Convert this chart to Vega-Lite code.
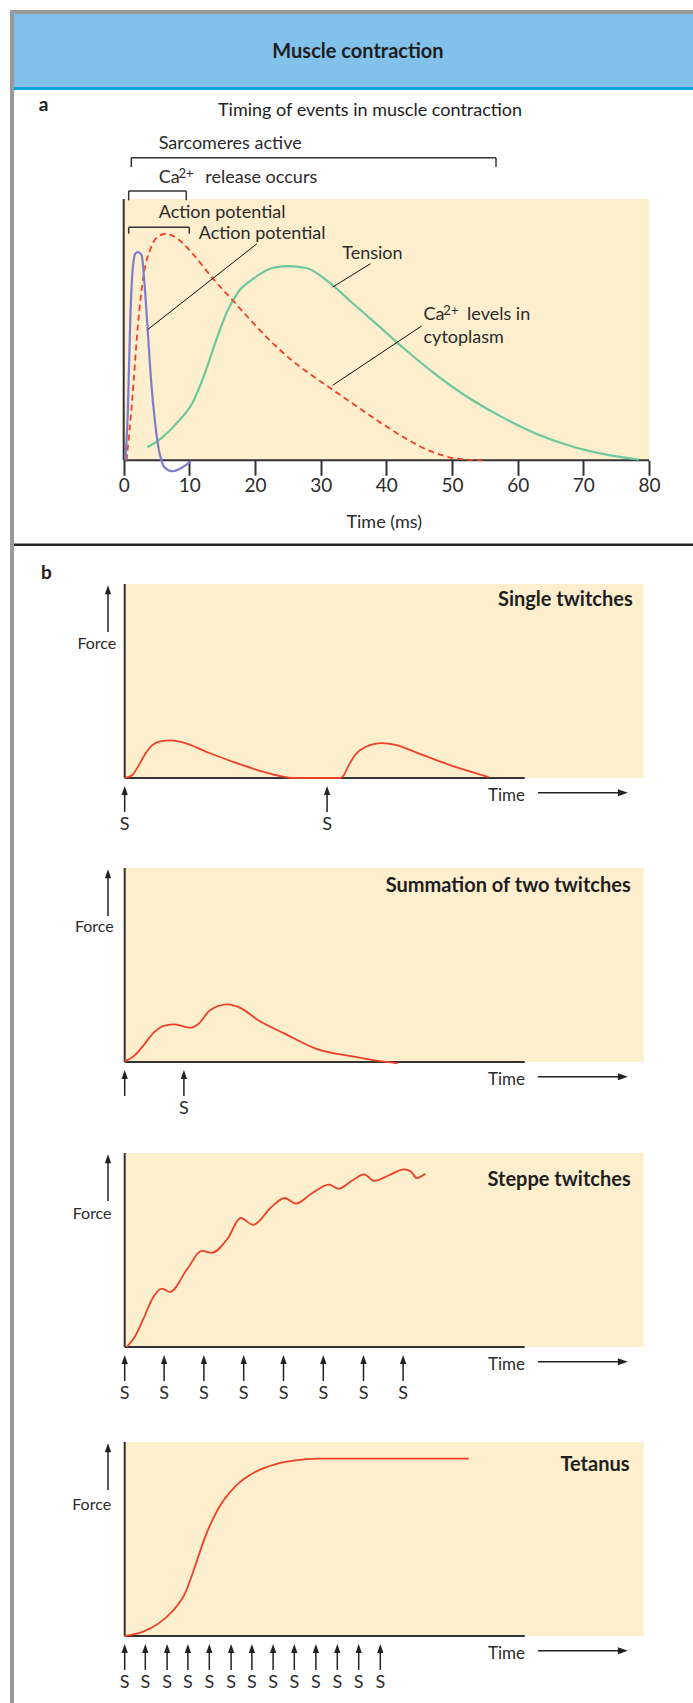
{
"$schema": "https://vega.github.io/schema/vega-lite/v6.json",
"background": "white",
"padding": {"left": 8, "top": 8, "right": 0, "bottom": 0},
"bounds": "flush",
"spacing": 0,
"config": {"view": {"stroke": null}, "font": "Lato"},
"datasets": {
"a_axes": [{"t":0,"t2":80,"v":0,"v2":0},{"t":0,"t2":0,"v":0,"v2":100}],
"tension": [{"t":3.61,"v":5.0},{"t":5.9,"v":8.8},{"t":8.21,"v":14.6},{"t":10.52,"v":22.2},{"t":12.24,"v":32.5},{"t":13.98,"v":45.2},{"t":15.7,"v":56.7},{"t":17.44,"v":64.4},{"t":19.74,"v":69.5},{"t":22.62,"v":73.6},{"t":24.9,"v":74.3},{"t":27.8,"v":73.6},{"t":31.25,"v":68.2},{"t":34.7,"v":60.5},{"t":38.17,"v":52.9},{"t":42.78,"v":42.6},{"t":47.4,"v":33.1},{"t":52.0,"v":24.8},{"t":57.2,"v":17.1},{"t":62.9,"v":10.1},{"t":68.7,"v":5.0},{"t":73.9,"v":2.0},{"t":78.5,"v":0.3}],
"ca": [{"t":0.44,"v":0},{"t":1.31,"v":23.5},{"t":2.16,"v":51.6},{"t":3.03,"v":70.8},{"t":4.19,"v":81.6},{"t":5.33,"v":85.8},{"t":6.49,"v":86.7},{"t":8.21,"v":84.8},{"t":10.52,"v":79.0},{"t":13.4,"v":70.1},{"t":16.86,"v":60.5},{"t":19.74,"v":52.5},{"t":22.62,"v":45.0},{"t":25.5,"v":38.5},{"t":28.95,"v":32.0},{"t":31.83,"v":27.0},{"t":34.7,"v":22.0},{"t":38.17,"v":16.0},{"t":42.78,"v":8.6},{"t":46.8,"v":3.4},{"t":50.84,"v":0.6},{"t":54.6,"v":0}],
"ap": [{"t":0.26,"v":0},{"t":0.61,"v":17.1},{"t":1.02,"v":55.4},{"t":1.42,"v":74.6},{"t":1.8,"v":79.2},{"t":2.16,"v":79.7},{"t":2.5,"v":79.2},{"t":2.74,"v":78.4},{"t":3.15,"v":68.2},{"t":3.61,"v":51.6},{"t":4.19,"v":29.9},{"t":4.77,"v":14.6},{"t":5.33,"v":4.3},{"t":5.74,"v":0},{"t":6.2,"v":-2.7},{"t":7.36,"v":-4.2},{"t":8.5,"v":-3.3},{"t":10.23,"v":-0.4}],
"a_brackets": [{"t":1.16,"v":115.8,"t2":56.7,"v2":115.8},{"t":1.16,"v":115.8,"t2":1.16,"v2":112.2},{"t":56.7,"v":115.8,"t2":56.7,"v2":112.2},{"t":0.76,"v":103.06,"t2":9.53,"v2":103.06},{"t":0.76,"v":103.06,"t2":0.76,"v2":99.5},{"t":9.53,"v":103.06,"t2":9.53,"v2":99.5},{"t":0.76,"v":89.17,"t2":9.99,"v2":89.17},{"t":0.76,"v":89.17,"t2":0.76,"v2":86.72},{"t":9.99,"v":89.17,"t2":9.99,"v2":86.72}],
"a_leaders": [{"t":20.3,"v":82.9,"t2":3.65,"v2":50},{"t":37.59,"v":75.24,"t2":31.83,"v2":66.3},{"t":45.37,"v":51.4,"t2":31.83,"v2":28.7}],
"a_text": [{"t":5.33,"v":119.25,"label":"Sarcomeres active","kind":"body"},{"t":5.33,"v":106.1,"label":"Ca","kind":"body"},{"t":8.35,"v":108.0,"label":"2+","kind":"sup"},{"t":12.43,"v":106.1,"label":"release occurs","kind":"body"},{"t":5.33,"v":92.84,"label":"Action potential","kind":"body"},{"t":11.42,"v":84.58,"label":"Action potential","kind":"body"},{"t":33.28,"v":76.9,"label":"Tension","kind":"body"},{"t":45.66,"v":53.6,"label":"Ca","kind":"body"},{"t":48.68,"v":55.5,"label":"2+","kind":"sup"},{"t":52.3,"v":53.6,"label":"levels in","kind":"body"},{"t":45.66,"v":44.9,"label":"cytoplasm","kind":"body"},{"t":37.52,"v":131.65,"label":"Timing of events in muscle contraction","kind":"title"},{"t":-12.95,"v":133.7,"label":"a","kind":"panel"}],
"b_axes": [{"u":0,"u2":100,"v":0,"v2":0},{"u":0,"u2":0,"v":0,"v2":100}],
"b1_curve": [{"u":0,"v":0},{"u":1.83,"v":1.4},{"u":3.5,"v":6.5},{"u":5.17,"v":12.5},{"u":6.83,"v":16.8},{"u":8.9,"v":18.9},{"u":11.4,"v":19.4},{"u":14.3,"v":18.5},{"u":21,"v":13},{"u":27.65,"v":7.9},{"u":34.3,"v":3.4},{"u":41,"v":0.2},{"u":42,"v":0},{"u":53.9,"v":0},{"u":54.75,"v":1.4},{"u":56,"v":6.5},{"u":57.65,"v":12},{"u":60.15,"v":16},{"u":64.3,"v":18},{"u":67.65,"v":17.1},{"u":74.3,"v":12},{"u":82.65,"v":5.7},{"u":91,"v":0.5}],
"b2_curve": [{"u":0,"v":0.3},{"u":2.5,"v":3.4},{"u":4.7,"v":8.6},{"u":7.45,"v":15.5},{"u":10.2,"v":18.9},{"u":12.4,"v":19.4},{"u":14.6,"v":18.4},{"u":16.6,"v":17.7},{"u":18.5,"v":19.7},{"u":21.25,"v":26.6},{"u":25.7,"v":29.7},{"u":29,"v":27.8},{"u":33.4,"v":21.5},{"u":40,"v":14.6},{"u":47.75,"v":6.9},{"u":57.7,"v":2.6},{"u":64.3,"v":0.3},{"u":68.2,"v":-0.7}],
"b3_curve": [{"u":0.5,"v":0},{"u":2.5,"v":5.2},{"u":4.7,"v":14.6},{"u":6.9,"v":24.9},{"u":9.3,"v":30.1},{"u":11.3,"v":28.4},{"u":15.7,"v":40.4},{"u":19.25,"v":49.5},{"u":21.8,"v":48.6},{"u":25.7,"v":55.8},{"u":29,"v":66.5},{"u":32.1,"v":63},{"u":36.7,"v":72.2},{"u":40,"v":76.8},{"u":42.8,"v":73.9},{"u":46.65,"v":79},{"u":51.1,"v":83.7},{"u":53.5,"v":81.6},{"u":56.6,"v":85.4},{"u":59.9,"v":89},{"u":62.35,"v":85.6},{"u":66,"v":88.5},{"u":69.85,"v":91.6},{"u":71.5,"v":90.6},{"u":72.95,"v":87.1},{"u":75.15,"v":89.3}],
"b4_curve": [{"u":0,"v":0},{"u":4.3,"v":2},{"u":8.5,"v":6.5},{"u":11.8,"v":12.5},{"u":15.2,"v":22.5},{"u":17.6,"v":36},{"u":20.1,"v":51},{"u":23.5,"v":66},{"u":27.6,"v":77},{"u":32.6,"v":84.5},{"u":37.6,"v":88.5},{"u":42.6,"v":90.5},{"u":48.3,"v":91.4},{"u":86,"v":91.4}],
"b1_stim": [{"u":0,"label":"S"},{"u":50.6,"label":"S"}],
"b2_stim": [{"u":0,"label":""},{"u":14.8,"label":"S"}],
"b3_stim": [{"u":0,"label":"S"},{"u":9.85,"label":"S"},{"u":19.8,"label":"S"},{"u":29.75,"label":"S"},{"u":39.7,"label":"S"},{"u":49.65,"label":"S"},{"u":59.7,"label":"S"},{"u":69.6,"label":"S"}],
"b4_stim": [{"u":0,"label":"S"},{"u":5.15,"label":"S"},{"u":10.6,"label":"S"},{"u":15.8,"label":"S"},{"u":21.15,"label":"S"},{"u":26.6,"label":"S"},{"u":31.8,"label":"S"},{"u":37.1,"label":"S"},{"u":42.4,"label":"S"},{"u":47.8,"label":"S"},{"u":53.15,"label":"S"},{"u":58.5,"label":"S"},{"u":63.9,"label":"S"}],
"b1_text": [{"u":-2.1,"v":66.65,"label":"Force","kind":"force"},{"u":90.8,"v":-12.1,"label":"Time","kind":"time"},{"u":127,"v":88.5,"label":"Single twitches","kind":"title"},{"u":-20.9,"v":102.6,"label":"b","kind":"panel"}],
"b2_text": [{"u":-2.73,"v":67.0,"label":"Force","kind":"force"},{"u":90.8,"v":-12.1,"label":"Time","kind":"time"},{"u":126.5,"v":87.4,"label":"Summation of two twitches","kind":"title"}],
"b3_text": [{"u":-3.28,"v":66.1,"label":"Force","kind":"force"},{"u":90.8,"v":-12.1,"label":"Time","kind":"time"},{"u":126.5,"v":83,"label":"Steppe twitches","kind":"title"}],
"b4_text": [{"u":-3.4,"v":64.8,"label":"Force","kind":"force"},{"u":90.8,"v":-12.1,"label":"Time","kind":"time"},{"u":126.2,"v":84.9,"label":"Tetanus","kind":"title"}]
},
"vconcat": [
{
"width": 685, "height": 78,
"data": {"values": [{"label": "Muscle contraction"}]},
"layer": [
{"mark": {"type": "rect", "color": "#82c1ea"}, "encoding": {"x": {"datum": 0, "type": "quantitative", "scale": {"domain": [0,100], "nice": false, "zero": false}, "axis": null}, "x2": {"datum": 100}, "y": {"datum": 0, "type": "quantitative", "scale": {"domain": [0,100], "nice": false, "zero": false}, "axis": null}, "y2": {"datum": 100}}},
{"mark": {"type": "rule", "color": "#00a8e2", "strokeWidth": 3}, "encoding": {"y": {"datum": -0.64, "type": "quantitative", "scale": {"domain": [0,100], "nice": false, "zero": false}, "axis": null}}},
{"mark": {"type": "rule", "color": "#9a9a9a", "strokeWidth": 4}, "encoding": {"y": {"datum": 97.44, "type": "quantitative", "scale": {"domain": [0,100], "nice": false, "zero": false}, "axis": null}}},
{"mark": {"type": "rule", "color": "#9a9a9a", "strokeWidth": 4}, "encoding": {"x": {"datum": 0.292, "type": "quantitative", "scale": {"domain": [0,100], "nice": false, "zero": false}, "axis": null}}},
{"mark": {"type": "text", "font": "Lato", "fontSize": 20, "fontWeight": "bold", "align": "center", "baseline": "alphabetic", "color": "#1e1e1e"}, "encoding": {"x": {"datum": 50.8, "type": "quantitative", "scale": {"domain": [0,100], "nice": false, "zero": false}, "axis": null}, "y": {"datum": 38.46, "type": "quantitative", "scale": {"domain": [0,100], "nice": false, "zero": false}, "axis": null}, "text": {"field": "label"}}}
]
},
{
"width": 685, "height": 457,
"layer": [
{"data": {"values": [{}]}, "mark": {"type": "rect", "color": "#fdeecd"}, "encoding": {"x": {"datum": 0, "type": "quantitative", "scale": {"domain": [-17.316,87.007], "nice": false, "zero": false}, "axis": {"values": [0,10,20,30,40,50,60,70,80], "offset": -84.7, "domain": false, "grid": false, "ticks": true, "tickSize": 15, "tickWidth": 2, "tickColor": "#333333", "labelFont": "Lato", "labelFontSize": 19, "labelColor": "#2b2b2b", "labelBaseline": "alphabetic", "labelPadding": 16, "labelFlush": false, "labelOverlap": false, "title": "Time (ms)", "titleFont": "Lato", "titleFontSize": 18, "titleFontWeight": "normal", "titleColor": "#2b2b2b", "titleX": 373.7, "titleY": 66.7, "titleBaseline": "alphabetic", "titleAlign": "center"}}, "x2": {"datum": 80}, "y": {"datum": 0, "type": "quantitative", "scale": {"domain": [-32.415,142.48], "nice": false, "zero": false}, "axis": null}, "y2": {"datum": 100}}},
{"data": {"name": "a_axes"}, "mark": {"type": "rule", "color": "#333333", "strokeWidth": 2}, "encoding": {"x": {"field": "t", "type": "quantitative", "scale": {"domain": [-17.316,87.007], "nice": false, "zero": false}, "axis": {"values": [0,10,20,30,40,50,60,70,80], "offset": -84.7, "domain": false, "grid": false, "ticks": true, "tickSize": 15, "tickWidth": 2, "tickColor": "#333333", "labelFont": "Lato", "labelFontSize": 19, "labelColor": "#2b2b2b", "labelBaseline": "alphabetic", "labelPadding": 16, "labelFlush": false, "labelOverlap": false, "title": "Time (ms)", "titleFont": "Lato", "titleFontSize": 18, "titleFontWeight": "normal", "titleColor": "#2b2b2b", "titleX": 373.7, "titleY": 66.7, "titleBaseline": "alphabetic", "titleAlign": "center"}}, "x2": {"field": "t2"}, "y": {"field": "v", "type": "quantitative", "scale": {"domain": [-32.415,142.48], "nice": false, "zero": false}, "axis": null}, "y2": {"field": "v2"}}},
{"data": {"name": "tension"}, "mark": {"type": "line", "color": "#6cc89b", "strokeWidth": 2.2, "interpolate": "monotone"}, "encoding": {"x": {"field": "t", "type": "quantitative", "scale": {"domain": [-17.316,87.007], "nice": false, "zero": false}, "axis": {"values": [0,10,20,30,40,50,60,70,80], "offset": -84.7, "domain": false, "grid": false, "ticks": true, "tickSize": 15, "tickWidth": 2, "tickColor": "#333333", "labelFont": "Lato", "labelFontSize": 19, "labelColor": "#2b2b2b", "labelBaseline": "alphabetic", "labelPadding": 16, "labelFlush": false, "labelOverlap": false, "title": "Time (ms)", "titleFont": "Lato", "titleFontSize": 18, "titleFontWeight": "normal", "titleColor": "#2b2b2b", "titleX": 373.7, "titleY": 66.7, "titleBaseline": "alphabetic", "titleAlign": "center"}}, "y": {"field": "v", "type": "quantitative", "scale": {"domain": [-32.415,142.48], "nice": false, "zero": false}, "axis": null}}},
{"data": {"name": "ca"}, "mark": {"type": "line", "color": "#ee4128", "strokeWidth": 1.8, "strokeDash": [6,4], "interpolate": "monotone"}, "encoding": {"x": {"field": "t", "type": "quantitative", "scale": {"domain": [-17.316,87.007], "nice": false, "zero": false}, "axis": {"values": [0,10,20,30,40,50,60,70,80], "offset": -84.7, "domain": false, "grid": false, "ticks": true, "tickSize": 15, "tickWidth": 2, "tickColor": "#333333", "labelFont": "Lato", "labelFontSize": 19, "labelColor": "#2b2b2b", "labelBaseline": "alphabetic", "labelPadding": 16, "labelFlush": false, "labelOverlap": false, "title": "Time (ms)", "titleFont": "Lato", "titleFontSize": 18, "titleFontWeight": "normal", "titleColor": "#2b2b2b", "titleX": 373.7, "titleY": 66.7, "titleBaseline": "alphabetic", "titleAlign": "center"}}, "y": {"field": "v", "type": "quantitative", "scale": {"domain": [-32.415,142.48], "nice": false, "zero": false}, "axis": null}}},
{"data": {"name": "ap"}, "mark": {"type": "line", "color": "#7d7dcd", "strokeWidth": 2.2, "interpolate": "monotone"}, "encoding": {"x": {"field": "t", "type": "quantitative", "scale": {"domain": [-17.316,87.007], "nice": false, "zero": false}, "axis": {"values": [0,10,20,30,40,50,60,70,80], "offset": -84.7, "domain": false, "grid": false, "ticks": true, "tickSize": 15, "tickWidth": 2, "tickColor": "#333333", "labelFont": "Lato", "labelFontSize": 19, "labelColor": "#2b2b2b", "labelBaseline": "alphabetic", "labelPadding": 16, "labelFlush": false, "labelOverlap": false, "title": "Time (ms)", "titleFont": "Lato", "titleFontSize": 18, "titleFontWeight": "normal", "titleColor": "#2b2b2b", "titleX": 373.7, "titleY": 66.7, "titleBaseline": "alphabetic", "titleAlign": "center"}}, "y": {"field": "v", "type": "quantitative", "scale": {"domain": [-32.415,142.48], "nice": false, "zero": false}, "axis": null}}},
{"data": {"name": "a_brackets"}, "mark": {"type": "rule", "color": "#333333", "strokeWidth": 1.5}, "encoding": {"x": {"field": "t", "type": "quantitative", "scale": {"domain": [-17.316,87.007], "nice": false, "zero": false}, "axis": {"values": [0,10,20,30,40,50,60,70,80], "offset": -84.7, "domain": false, "grid": false, "ticks": true, "tickSize": 15, "tickWidth": 2, "tickColor": "#333333", "labelFont": "Lato", "labelFontSize": 19, "labelColor": "#2b2b2b", "labelBaseline": "alphabetic", "labelPadding": 16, "labelFlush": false, "labelOverlap": false, "title": "Time (ms)", "titleFont": "Lato", "titleFontSize": 18, "titleFontWeight": "normal", "titleColor": "#2b2b2b", "titleX": 373.7, "titleY": 66.7, "titleBaseline": "alphabetic", "titleAlign": "center"}}, "x2": {"field": "t2"}, "y": {"field": "v", "type": "quantitative", "scale": {"domain": [-32.415,142.48], "nice": false, "zero": false}, "axis": null}, "y2": {"field": "v2"}}},
{"data": {"name": "a_leaders"}, "mark": {"type": "rule", "color": "#111111", "strokeWidth": 1}, "encoding": {"x": {"field": "t", "type": "quantitative", "scale": {"domain": [-17.316,87.007], "nice": false, "zero": false}, "axis": {"values": [0,10,20,30,40,50,60,70,80], "offset": -84.7, "domain": false, "grid": false, "ticks": true, "tickSize": 15, "tickWidth": 2, "tickColor": "#333333", "labelFont": "Lato", "labelFontSize": 19, "labelColor": "#2b2b2b", "labelBaseline": "alphabetic", "labelPadding": 16, "labelFlush": false, "labelOverlap": false, "title": "Time (ms)", "titleFont": "Lato", "titleFontSize": 18, "titleFontWeight": "normal", "titleColor": "#2b2b2b", "titleX": 373.7, "titleY": 66.7, "titleBaseline": "alphabetic", "titleAlign": "center"}}, "x2": {"field": "t2"}, "y": {"field": "v", "type": "quantitative", "scale": {"domain": [-32.415,142.48], "nice": false, "zero": false}, "axis": null}, "y2": {"field": "v2"}}},
{"data": {"name": "a_text"}, "transform": [{"filter": "datum.kind === 'body'"}], "mark": {"type": "text", "font": "Lato", "fontSize": 18, "align": "left", "baseline": "alphabetic", "color": "#2b2b2b"}, "encoding": {"x": {"field": "t", "type": "quantitative", "scale": {"domain": [-17.316,87.007], "nice": false, "zero": false}, "axis": {"values": [0,10,20,30,40,50,60,70,80], "offset": -84.7, "domain": false, "grid": false, "ticks": true, "tickSize": 15, "tickWidth": 2, "tickColor": "#333333", "labelFont": "Lato", "labelFontSize": 19, "labelColor": "#2b2b2b", "labelBaseline": "alphabetic", "labelPadding": 16, "labelFlush": false, "labelOverlap": false, "title": "Time (ms)", "titleFont": "Lato", "titleFontSize": 18, "titleFontWeight": "normal", "titleColor": "#2b2b2b", "titleX": 373.7, "titleY": 66.7, "titleBaseline": "alphabetic", "titleAlign": "center"}}, "y": {"field": "v", "type": "quantitative", "scale": {"domain": [-32.415,142.48], "nice": false, "zero": false}, "axis": null}, "text": {"field": "label"}}},
{"data": {"name": "a_text"}, "transform": [{"filter": "datum.kind === 'sup'"}], "mark": {"type": "text", "font": "Lato", "fontSize": 13, "align": "left", "baseline": "alphabetic", "color": "#2b2b2b"}, "encoding": {"x": {"field": "t", "type": "quantitative", "scale": {"domain": [-17.316,87.007], "nice": false, "zero": false}, "axis": {"values": [0,10,20,30,40,50,60,70,80], "offset": -84.7, "domain": false, "grid": false, "ticks": true, "tickSize": 15, "tickWidth": 2, "tickColor": "#333333", "labelFont": "Lato", "labelFontSize": 19, "labelColor": "#2b2b2b", "labelBaseline": "alphabetic", "labelPadding": 16, "labelFlush": false, "labelOverlap": false, "title": "Time (ms)", "titleFont": "Lato", "titleFontSize": 18, "titleFontWeight": "normal", "titleColor": "#2b2b2b", "titleX": 373.7, "titleY": 66.7, "titleBaseline": "alphabetic", "titleAlign": "center"}}, "y": {"field": "v", "type": "quantitative", "scale": {"domain": [-32.415,142.48], "nice": false, "zero": false}, "axis": null}, "text": {"field": "label"}}},
{"data": {"name": "a_text"}, "transform": [{"filter": "datum.kind === 'title'"}], "mark": {"type": "text", "font": "Lato", "fontSize": 18, "align": "center", "baseline": "alphabetic", "color": "#1e1e1e"}, "encoding": {"x": {"field": "t", "type": "quantitative", "scale": {"domain": [-17.316,87.007], "nice": false, "zero": false}, "axis": {"values": [0,10,20,30,40,50,60,70,80], "offset": -84.7, "domain": false, "grid": false, "ticks": true, "tickSize": 15, "tickWidth": 2, "tickColor": "#333333", "labelFont": "Lato", "labelFontSize": 19, "labelColor": "#2b2b2b", "labelBaseline": "alphabetic", "labelPadding": 16, "labelFlush": false, "labelOverlap": false, "title": "Time (ms)", "titleFont": "Lato", "titleFontSize": 18, "titleFontWeight": "normal", "titleColor": "#2b2b2b", "titleX": 373.7, "titleY": 66.7, "titleBaseline": "alphabetic", "titleAlign": "center"}}, "y": {"field": "v", "type": "quantitative", "scale": {"domain": [-32.415,142.48], "nice": false, "zero": false}, "axis": null}, "text": {"field": "label"}}},
{"data": {"name": "a_text"}, "transform": [{"filter": "datum.kind === 'panel'"}], "mark": {"type": "text", "font": "Lato", "fontSize": 19, "fontWeight": "bold", "align": "left", "baseline": "alphabetic", "color": "#1e1e1e"}, "encoding": {"x": {"field": "t", "type": "quantitative", "scale": {"domain": [-17.316,87.007], "nice": false, "zero": false}, "axis": {"values": [0,10,20,30,40,50,60,70,80], "offset": -84.7, "domain": false, "grid": false, "ticks": true, "tickSize": 15, "tickWidth": 2, "tickColor": "#333333", "labelFont": "Lato", "labelFontSize": 19, "labelColor": "#2b2b2b", "labelBaseline": "alphabetic", "labelPadding": 16, "labelFlush": false, "labelOverlap": false, "title": "Time (ms)", "titleFont": "Lato", "titleFontSize": 18, "titleFontWeight": "normal", "titleColor": "#2b2b2b", "titleX": 373.7, "titleY": 66.7, "titleBaseline": "alphabetic", "titleAlign": "center"}}, "y": {"field": "v", "type": "quantitative", "scale": {"domain": [-32.415,142.48], "nice": false, "zero": false}, "axis": null}, "text": {"field": "label"}}},
{"data": {"values": [{}]}, "mark": {"type": "rule", "color": "#222222", "strokeWidth": 2.5}, "encoding": {"y": {"datum": -32.34, "type": "quantitative", "scale": {"domain": [-32.415,142.48], "nice": false, "zero": false}, "axis": null}}},
{"data": {"values": [{}]}, "mark": {"type": "rule", "color": "#9a9a9a", "strokeWidth": 4}, "encoding": {"x": {"datum": -17.012, "type": "quantitative", "scale": {"domain": [-17.316,87.007], "nice": false, "zero": false}, "axis": {"values": [0,10,20,30,40,50,60,70,80], "offset": -84.7, "domain": false, "grid": false, "ticks": true, "tickSize": 15, "tickWidth": 2, "tickColor": "#333333", "labelFont": "Lato", "labelFontSize": 19, "labelColor": "#2b2b2b", "labelBaseline": "alphabetic", "labelPadding": 16, "labelFlush": false, "labelOverlap": false, "title": "Time (ms)", "titleFont": "Lato", "titleFontSize": 18, "titleFontWeight": "normal", "titleColor": "#2b2b2b", "titleX": 373.7, "titleY": 66.7, "titleBaseline": "alphabetic", "titleAlign": "center"}}}}
]
},
{
"width": 685, "height": 302,
"layer": [
{"data": {"values": [{}]}, "mark": {"type": "rect", "color": "#fdeecd"}, "encoding": {"x": {"datum": 0, "type": "quantitative", "scale": {"domain": [-28.675,142.575], "nice": false, "zero": false}, "axis": null}, "x2": {"datum": 129.75}, "y": {"datum": 0, "type": "quantitative", "scale": {"domain": [-35.57,120.1], "nice": false, "zero": false}, "axis": null}, "y2": {"datum": 100}}},
{"data": {"name": "b_axes"}, "mark": {"type": "rule", "color": "#333333", "strokeWidth": 2}, "encoding": {"x": {"field": "u", "type": "quantitative", "scale": {"domain": [-28.675,142.575], "nice": false, "zero": false}, "axis": null}, "x2": {"field": "u2"}, "y": {"field": "v", "type": "quantitative", "scale": {"domain": [-35.57,120.1], "nice": false, "zero": false}, "axis": null}, "y2": {"field": "v2"}}},
{"data": {"name": "b1_curve"}, "mark": {"type": "line", "color": "#ee4128", "strokeWidth": 1.8, "interpolate": "monotone"}, "encoding": {"x": {"field": "u", "type": "quantitative", "scale": {"domain": [-28.675,142.575], "nice": false, "zero": false}, "axis": null}, "y": {"field": "v", "type": "quantitative", "scale": {"domain": [-35.57,120.1], "nice": false, "zero": false}, "axis": null}}},
{"data": {"name": "b1_stim"}, "mark": {"type": "rule", "color": "#222222", "strokeWidth": 1.5}, "encoding": {"x": {"field": "u", "type": "quantitative", "scale": {"domain": [-28.675,142.575], "nice": false, "zero": false}, "axis": null}, "y": {"datum": -17.5, "type": "quantitative", "scale": {"domain": [-35.57,120.1], "nice": false, "zero": false}, "axis": null}, "y2": {"datum": -6.4}}},
{"data": {"name": "b1_stim"}, "mark": {"type": "point", "shape": "M -0.7 1 L 0 -1 L 0.7 1 Z", "size": 81, "filled": true, "color": "#222222", "opacity": 1, "strokeWidth": 0}, "encoding": {"x": {"field": "u", "type": "quantitative", "scale": {"domain": [-28.675,142.575], "nice": false, "zero": false}, "axis": null}, "y": {"datum": -6.44, "type": "quantitative", "scale": {"domain": [-35.57,120.1], "nice": false, "zero": false}, "axis": null}}},
{"data": {"name": "b1_stim"}, "mark": {"type": "text", "font": "Lato", "fontSize": 18, "align": "center", "baseline": "alphabetic", "color": "#2b2b2b"}, "encoding": {"x": {"field": "u", "type": "quantitative", "scale": {"domain": [-28.675,142.575], "nice": false, "zero": false}, "axis": null}, "y": {"datum": -27, "type": "quantitative", "scale": {"domain": [-35.57,120.1], "nice": false, "zero": false}, "axis": null}, "text": {"field": "label"}}},
{"data": {"values": [{}]}, "mark": {"type": "rule", "color": "#222222", "strokeWidth": 1.5}, "encoding": {"x": {"datum": -4.175, "type": "quantitative", "scale": {"domain": [-28.675,142.575], "nice": false, "zero": false}, "axis": null}, "y": {"datum": 75.3, "type": "quantitative", "scale": {"domain": [-35.57,120.1], "nice": false, "zero": false}, "axis": null}, "y2": {"datum": 97}}},
{"data": {"values": [{}]}, "mark": {"type": "point", "shape": "M -0.7 1 L 0 -1 L 0.7 1 Z", "size": 81, "filled": true, "color": "#222222", "opacity": 1, "strokeWidth": 0}, "encoding": {"x": {"datum": -4.175, "type": "quantitative", "scale": {"domain": [-28.675,142.575], "nice": false, "zero": false}, "axis": null}, "y": {"datum": 96.98, "type": "quantitative", "scale": {"domain": [-35.57,120.1], "nice": false, "zero": false}, "axis": null}}},
{"data": {"values": [{}]}, "mark": {"type": "rule", "color": "#222222", "strokeWidth": 1.5}, "encoding": {"x": {"datum": 103.3, "type": "quantitative", "scale": {"domain": [-28.675,142.575], "nice": false, "zero": false}, "axis": null}, "x2": {"datum": 124}, "y": {"datum": -7.63, "type": "quantitative", "scale": {"domain": [-35.57,120.1], "nice": false, "zero": false}, "axis": null}}},
{"data": {"values": [{}]}, "mark": {"type": "point", "shape": "M -1 -0.7 L 1 0 L -1 0.7 Z", "size": 100, "filled": true, "color": "#222222", "opacity": 1, "strokeWidth": 0}, "encoding": {"x": {"datum": 124.55, "type": "quantitative", "scale": {"domain": [-28.675,142.575], "nice": false, "zero": false}, "axis": null}, "y": {"datum": -7.63, "type": "quantitative", "scale": {"domain": [-35.57,120.1], "nice": false, "zero": false}, "axis": null}}},
{"data": {"name": "b1_text"}, "transform": [{"filter": "datum.kind === 'force'"}], "mark": {"type": "text", "font": "Lato", "fontSize": 16, "align": "right", "baseline": "alphabetic", "color": "#2b2b2b"}, "encoding": {"x": {"field": "u", "type": "quantitative", "scale": {"domain": [-28.675,142.575], "nice": false, "zero": false}, "axis": null}, "y": {"field": "v", "type": "quantitative", "scale": {"domain": [-35.57,120.1], "nice": false, "zero": false}, "axis": null}, "text": {"field": "label"}}},
{"data": {"name": "b1_text"}, "transform": [{"filter": "datum.kind === 'time'"}], "mark": {"type": "text", "font": "Lato", "fontSize": 17, "align": "left", "baseline": "alphabetic", "color": "#2b2b2b"}, "encoding": {"x": {"field": "u", "type": "quantitative", "scale": {"domain": [-28.675,142.575], "nice": false, "zero": false}, "axis": null}, "y": {"field": "v", "type": "quantitative", "scale": {"domain": [-35.57,120.1], "nice": false, "zero": false}, "axis": null}, "text": {"field": "label"}}},
{"data": {"name": "b1_text"}, "transform": [{"filter": "datum.kind === 'title'"}], "mark": {"type": "text", "font": "Lato", "fontSize": 20, "fontWeight": "bold", "align": "right", "baseline": "alphabetic", "color": "#1e1e1e"}, "encoding": {"x": {"field": "u", "type": "quantitative", "scale": {"domain": [-28.675,142.575], "nice": false, "zero": false}, "axis": null}, "y": {"field": "v", "type": "quantitative", "scale": {"domain": [-35.57,120.1], "nice": false, "zero": false}, "axis": null}, "text": {"field": "label"}}},
{"data": {"name": "b1_text"}, "transform": [{"filter": "datum.kind === 'panel'"}], "mark": {"type": "text", "font": "Lato", "fontSize": 19, "fontWeight": "bold", "align": "left", "baseline": "alphabetic", "color": "#1e1e1e"}, "encoding": {"x": {"field": "u", "type": "quantitative", "scale": {"domain": [-28.675,142.575], "nice": false, "zero": false}, "axis": null}, "y": {"field": "v", "type": "quantitative", "scale": {"domain": [-35.57,120.1], "nice": false, "zero": false}, "axis": null}, "text": {"field": "label"}}},
{"data": {"values": [{}]}, "mark": {"type": "rule", "color": "#9a9a9a", "strokeWidth": 4}, "encoding": {"x": {"datum": -28.175, "type": "quantitative", "scale": {"domain": [-28.675,142.575], "nice": false, "zero": false}, "axis": null}}}
]
},
{
"width": 685, "height": 290,
"layer": [
{"data": {"values": [{}]}, "mark": {"type": "rect", "color": "#fdeecd"}, "encoding": {"x": {"datum": 0, "type": "quantitative", "scale": {"domain": [-28.675,142.575], "nice": false, "zero": false}, "axis": null}, "x2": {"datum": 129.75}, "y": {"datum": 0, "type": "quantitative", "scale": {"domain": [-38.66,110.82], "nice": false, "zero": false}, "axis": null}, "y2": {"datum": 100}}},
{"data": {"name": "b_axes"}, "mark": {"type": "rule", "color": "#333333", "strokeWidth": 2}, "encoding": {"x": {"field": "u", "type": "quantitative", "scale": {"domain": [-28.675,142.575], "nice": false, "zero": false}, "axis": null}, "x2": {"field": "u2"}, "y": {"field": "v", "type": "quantitative", "scale": {"domain": [-38.66,110.82], "nice": false, "zero": false}, "axis": null}, "y2": {"field": "v2"}}},
{"data": {"name": "b2_curve"}, "mark": {"type": "line", "color": "#ee4128", "strokeWidth": 1.8, "interpolate": "monotone"}, "encoding": {"x": {"field": "u", "type": "quantitative", "scale": {"domain": [-28.675,142.575], "nice": false, "zero": false}, "axis": null}, "y": {"field": "v", "type": "quantitative", "scale": {"domain": [-38.66,110.82], "nice": false, "zero": false}, "axis": null}}},
{"data": {"name": "b2_stim"}, "mark": {"type": "rule", "color": "#222222", "strokeWidth": 1.5}, "encoding": {"x": {"field": "u", "type": "quantitative", "scale": {"domain": [-28.675,142.575], "nice": false, "zero": false}, "axis": null}, "y": {"datum": -17.5, "type": "quantitative", "scale": {"domain": [-38.66,110.82], "nice": false, "zero": false}, "axis": null}, "y2": {"datum": -6.4}}},
{"data": {"name": "b2_stim"}, "mark": {"type": "point", "shape": "M -0.7 1 L 0 -1 L 0.7 1 Z", "size": 81, "filled": true, "color": "#222222", "opacity": 1, "strokeWidth": 0}, "encoding": {"x": {"field": "u", "type": "quantitative", "scale": {"domain": [-28.675,142.575], "nice": false, "zero": false}, "axis": null}, "y": {"datum": -6.44, "type": "quantitative", "scale": {"domain": [-38.66,110.82], "nice": false, "zero": false}, "axis": null}}},
{"data": {"name": "b2_stim"}, "mark": {"type": "text", "font": "Lato", "fontSize": 18, "align": "center", "baseline": "alphabetic", "color": "#2b2b2b"}, "encoding": {"x": {"field": "u", "type": "quantitative", "scale": {"domain": [-28.675,142.575], "nice": false, "zero": false}, "axis": null}, "y": {"datum": -27, "type": "quantitative", "scale": {"domain": [-38.66,110.82], "nice": false, "zero": false}, "axis": null}, "text": {"field": "label"}}},
{"data": {"values": [{}]}, "mark": {"type": "rule", "color": "#222222", "strokeWidth": 1.5}, "encoding": {"x": {"datum": -4.175, "type": "quantitative", "scale": {"domain": [-28.675,142.575], "nice": false, "zero": false}, "axis": null}, "y": {"datum": 75.3, "type": "quantitative", "scale": {"domain": [-38.66,110.82], "nice": false, "zero": false}, "axis": null}, "y2": {"datum": 97}}},
{"data": {"values": [{}]}, "mark": {"type": "point", "shape": "M -0.7 1 L 0 -1 L 0.7 1 Z", "size": 81, "filled": true, "color": "#222222", "opacity": 1, "strokeWidth": 0}, "encoding": {"x": {"datum": -4.175, "type": "quantitative", "scale": {"domain": [-28.675,142.575], "nice": false, "zero": false}, "axis": null}, "y": {"datum": 96.98, "type": "quantitative", "scale": {"domain": [-38.66,110.82], "nice": false, "zero": false}, "axis": null}}},
{"data": {"values": [{}]}, "mark": {"type": "rule", "color": "#222222", "strokeWidth": 1.5}, "encoding": {"x": {"datum": 103.3, "type": "quantitative", "scale": {"domain": [-28.675,142.575], "nice": false, "zero": false}, "axis": null}, "x2": {"datum": 124}, "y": {"datum": -7.63, "type": "quantitative", "scale": {"domain": [-38.66,110.82], "nice": false, "zero": false}, "axis": null}}},
{"data": {"values": [{}]}, "mark": {"type": "point", "shape": "M -1 -0.7 L 1 0 L -1 0.7 Z", "size": 100, "filled": true, "color": "#222222", "opacity": 1, "strokeWidth": 0}, "encoding": {"x": {"datum": 124.55, "type": "quantitative", "scale": {"domain": [-28.675,142.575], "nice": false, "zero": false}, "axis": null}, "y": {"datum": -7.63, "type": "quantitative", "scale": {"domain": [-38.66,110.82], "nice": false, "zero": false}, "axis": null}}},
{"data": {"name": "b2_text"}, "transform": [{"filter": "datum.kind === 'force'"}], "mark": {"type": "text", "font": "Lato", "fontSize": 16, "align": "right", "baseline": "alphabetic", "color": "#2b2b2b"}, "encoding": {"x": {"field": "u", "type": "quantitative", "scale": {"domain": [-28.675,142.575], "nice": false, "zero": false}, "axis": null}, "y": {"field": "v", "type": "quantitative", "scale": {"domain": [-38.66,110.82], "nice": false, "zero": false}, "axis": null}, "text": {"field": "label"}}},
{"data": {"name": "b2_text"}, "transform": [{"filter": "datum.kind === 'time'"}], "mark": {"type": "text", "font": "Lato", "fontSize": 17, "align": "left", "baseline": "alphabetic", "color": "#2b2b2b"}, "encoding": {"x": {"field": "u", "type": "quantitative", "scale": {"domain": [-28.675,142.575], "nice": false, "zero": false}, "axis": null}, "y": {"field": "v", "type": "quantitative", "scale": {"domain": [-38.66,110.82], "nice": false, "zero": false}, "axis": null}, "text": {"field": "label"}}},
{"data": {"name": "b2_text"}, "transform": [{"filter": "datum.kind === 'title'"}], "mark": {"type": "text", "font": "Lato", "fontSize": 20, "fontWeight": "bold", "align": "right", "baseline": "alphabetic", "color": "#1e1e1e"}, "encoding": {"x": {"field": "u", "type": "quantitative", "scale": {"domain": [-28.675,142.575], "nice": false, "zero": false}, "axis": null}, "y": {"field": "v", "type": "quantitative", "scale": {"domain": [-38.66,110.82], "nice": false, "zero": false}, "axis": null}, "text": {"field": "label"}}},
{"data": {"values": [{}]}, "mark": {"type": "rule", "color": "#9a9a9a", "strokeWidth": 4}, "encoding": {"x": {"datum": -28.175, "type": "quantitative", "scale": {"domain": [-28.675,142.575], "nice": false, "zero": false}, "axis": null}}}
]
},
{
"width": 685, "height": 285,
"layer": [
{"data": {"values": [{}]}, "mark": {"type": "rect", "color": "#fdeecd"}, "encoding": {"x": {"datum": 0, "type": "quantitative", "scale": {"domain": [-28.675,142.575], "nice": false, "zero": false}, "axis": null}, "x2": {"datum": 129.75}, "y": {"datum": 0, "type": "quantitative", "scale": {"domain": [-38.66,108.25], "nice": false, "zero": false}, "axis": null}, "y2": {"datum": 100}}},
{"data": {"name": "b_axes"}, "mark": {"type": "rule", "color": "#333333", "strokeWidth": 2}, "encoding": {"x": {"field": "u", "type": "quantitative", "scale": {"domain": [-28.675,142.575], "nice": false, "zero": false}, "axis": null}, "x2": {"field": "u2"}, "y": {"field": "v", "type": "quantitative", "scale": {"domain": [-38.66,108.25], "nice": false, "zero": false}, "axis": null}, "y2": {"field": "v2"}}},
{"data": {"name": "b3_curve"}, "mark": {"type": "line", "color": "#ee4128", "strokeWidth": 1.8, "interpolate": "monotone"}, "encoding": {"x": {"field": "u", "type": "quantitative", "scale": {"domain": [-28.675,142.575], "nice": false, "zero": false}, "axis": null}, "y": {"field": "v", "type": "quantitative", "scale": {"domain": [-38.66,108.25], "nice": false, "zero": false}, "axis": null}}},
{"data": {"name": "b3_stim"}, "mark": {"type": "rule", "color": "#222222", "strokeWidth": 1.5}, "encoding": {"x": {"field": "u", "type": "quantitative", "scale": {"domain": [-28.675,142.575], "nice": false, "zero": false}, "axis": null}, "y": {"datum": -17.5, "type": "quantitative", "scale": {"domain": [-38.66,108.25], "nice": false, "zero": false}, "axis": null}, "y2": {"datum": -6.4}}},
{"data": {"name": "b3_stim"}, "mark": {"type": "point", "shape": "M -0.7 1 L 0 -1 L 0.7 1 Z", "size": 81, "filled": true, "color": "#222222", "opacity": 1, "strokeWidth": 0}, "encoding": {"x": {"field": "u", "type": "quantitative", "scale": {"domain": [-28.675,142.575], "nice": false, "zero": false}, "axis": null}, "y": {"datum": -6.44, "type": "quantitative", "scale": {"domain": [-38.66,108.25], "nice": false, "zero": false}, "axis": null}}},
{"data": {"name": "b3_stim"}, "mark": {"type": "text", "font": "Lato", "fontSize": 18, "align": "center", "baseline": "alphabetic", "color": "#2b2b2b"}, "encoding": {"x": {"field": "u", "type": "quantitative", "scale": {"domain": [-28.675,142.575], "nice": false, "zero": false}, "axis": null}, "y": {"datum": -27, "type": "quantitative", "scale": {"domain": [-38.66,108.25], "nice": false, "zero": false}, "axis": null}, "text": {"field": "label"}}},
{"data": {"values": [{}]}, "mark": {"type": "rule", "color": "#222222", "strokeWidth": 1.5}, "encoding": {"x": {"datum": -4.175, "type": "quantitative", "scale": {"domain": [-28.675,142.575], "nice": false, "zero": false}, "axis": null}, "y": {"datum": 75.3, "type": "quantitative", "scale": {"domain": [-38.66,108.25], "nice": false, "zero": false}, "axis": null}, "y2": {"datum": 97}}},
{"data": {"values": [{}]}, "mark": {"type": "point", "shape": "M -0.7 1 L 0 -1 L 0.7 1 Z", "size": 81, "filled": true, "color": "#222222", "opacity": 1, "strokeWidth": 0}, "encoding": {"x": {"datum": -4.175, "type": "quantitative", "scale": {"domain": [-28.675,142.575], "nice": false, "zero": false}, "axis": null}, "y": {"datum": 96.98, "type": "quantitative", "scale": {"domain": [-38.66,108.25], "nice": false, "zero": false}, "axis": null}}},
{"data": {"values": [{}]}, "mark": {"type": "rule", "color": "#222222", "strokeWidth": 1.5}, "encoding": {"x": {"datum": 103.3, "type": "quantitative", "scale": {"domain": [-28.675,142.575], "nice": false, "zero": false}, "axis": null}, "x2": {"datum": 124}, "y": {"datum": -7.63, "type": "quantitative", "scale": {"domain": [-38.66,108.25], "nice": false, "zero": false}, "axis": null}}},
{"data": {"values": [{}]}, "mark": {"type": "point", "shape": "M -1 -0.7 L 1 0 L -1 0.7 Z", "size": 100, "filled": true, "color": "#222222", "opacity": 1, "strokeWidth": 0}, "encoding": {"x": {"datum": 124.55, "type": "quantitative", "scale": {"domain": [-28.675,142.575], "nice": false, "zero": false}, "axis": null}, "y": {"datum": -7.63, "type": "quantitative", "scale": {"domain": [-38.66,108.25], "nice": false, "zero": false}, "axis": null}}},
{"data": {"name": "b3_text"}, "transform": [{"filter": "datum.kind === 'force'"}], "mark": {"type": "text", "font": "Lato", "fontSize": 16, "align": "right", "baseline": "alphabetic", "color": "#2b2b2b"}, "encoding": {"x": {"field": "u", "type": "quantitative", "scale": {"domain": [-28.675,142.575], "nice": false, "zero": false}, "axis": null}, "y": {"field": "v", "type": "quantitative", "scale": {"domain": [-38.66,108.25], "nice": false, "zero": false}, "axis": null}, "text": {"field": "label"}}},
{"data": {"name": "b3_text"}, "transform": [{"filter": "datum.kind === 'time'"}], "mark": {"type": "text", "font": "Lato", "fontSize": 17, "align": "left", "baseline": "alphabetic", "color": "#2b2b2b"}, "encoding": {"x": {"field": "u", "type": "quantitative", "scale": {"domain": [-28.675,142.575], "nice": false, "zero": false}, "axis": null}, "y": {"field": "v", "type": "quantitative", "scale": {"domain": [-38.66,108.25], "nice": false, "zero": false}, "axis": null}, "text": {"field": "label"}}},
{"data": {"name": "b3_text"}, "transform": [{"filter": "datum.kind === 'title'"}], "mark": {"type": "text", "font": "Lato", "fontSize": 20, "fontWeight": "bold", "align": "right", "baseline": "alphabetic", "color": "#1e1e1e"}, "encoding": {"x": {"field": "u", "type": "quantitative", "scale": {"domain": [-28.675,142.575], "nice": false, "zero": false}, "axis": null}, "y": {"field": "v", "type": "quantitative", "scale": {"domain": [-38.66,108.25], "nice": false, "zero": false}, "axis": null}, "text": {"field": "label"}}},
{"data": {"values": [{}]}, "mark": {"type": "rule", "color": "#9a9a9a", "strokeWidth": 4}, "encoding": {"x": {"datum": -28.175, "type": "quantitative", "scale": {"domain": [-28.675,142.575], "nice": false, "zero": false}, "axis": null}}}
]
},
{
"width": 685, "height": 283,
"layer": [
{"data": {"values": [{}]}, "mark": {"type": "rect", "color": "#fdeecd"}, "encoding": {"x": {"datum": 0, "type": "quantitative", "scale": {"domain": [-28.675,142.575], "nice": false, "zero": false}, "axis": null}, "x2": {"datum": 129.75}, "y": {"datum": 0, "type": "quantitative", "scale": {"domain": [-35.57,110.31], "nice": false, "zero": false}, "axis": null}, "y2": {"datum": 100}}},
{"data": {"name": "b_axes"}, "mark": {"type": "rule", "color": "#333333", "strokeWidth": 2}, "encoding": {"x": {"field": "u", "type": "quantitative", "scale": {"domain": [-28.675,142.575], "nice": false, "zero": false}, "axis": null}, "x2": {"field": "u2"}, "y": {"field": "v", "type": "quantitative", "scale": {"domain": [-35.57,110.31], "nice": false, "zero": false}, "axis": null}, "y2": {"field": "v2"}}},
{"data": {"name": "b4_curve"}, "mark": {"type": "line", "color": "#ee4128", "strokeWidth": 1.8, "interpolate": "monotone"}, "encoding": {"x": {"field": "u", "type": "quantitative", "scale": {"domain": [-28.675,142.575], "nice": false, "zero": false}, "axis": null}, "y": {"field": "v", "type": "quantitative", "scale": {"domain": [-35.57,110.31], "nice": false, "zero": false}, "axis": null}}},
{"data": {"name": "b4_stim"}, "mark": {"type": "rule", "color": "#222222", "strokeWidth": 1.5}, "encoding": {"x": {"field": "u", "type": "quantitative", "scale": {"domain": [-28.675,142.575], "nice": false, "zero": false}, "axis": null}, "y": {"datum": -17.5, "type": "quantitative", "scale": {"domain": [-35.57,110.31], "nice": false, "zero": false}, "axis": null}, "y2": {"datum": -6.4}}},
{"data": {"name": "b4_stim"}, "mark": {"type": "point", "shape": "M -0.7 1 L 0 -1 L 0.7 1 Z", "size": 81, "filled": true, "color": "#222222", "opacity": 1, "strokeWidth": 0}, "encoding": {"x": {"field": "u", "type": "quantitative", "scale": {"domain": [-28.675,142.575], "nice": false, "zero": false}, "axis": null}, "y": {"datum": -6.44, "type": "quantitative", "scale": {"domain": [-35.57,110.31], "nice": false, "zero": false}, "axis": null}}},
{"data": {"name": "b4_stim"}, "mark": {"type": "text", "font": "Lato", "fontSize": 18, "align": "center", "baseline": "alphabetic", "color": "#2b2b2b"}, "encoding": {"x": {"field": "u", "type": "quantitative", "scale": {"domain": [-28.675,142.575], "nice": false, "zero": false}, "axis": null}, "y": {"datum": -27, "type": "quantitative", "scale": {"domain": [-35.57,110.31], "nice": false, "zero": false}, "axis": null}, "text": {"field": "label"}}},
{"data": {"values": [{}]}, "mark": {"type": "rule", "color": "#222222", "strokeWidth": 1.5}, "encoding": {"x": {"datum": -4.175, "type": "quantitative", "scale": {"domain": [-28.675,142.575], "nice": false, "zero": false}, "axis": null}, "y": {"datum": 75.3, "type": "quantitative", "scale": {"domain": [-35.57,110.31], "nice": false, "zero": false}, "axis": null}, "y2": {"datum": 97}}},
{"data": {"values": [{}]}, "mark": {"type": "point", "shape": "M -0.7 1 L 0 -1 L 0.7 1 Z", "size": 81, "filled": true, "color": "#222222", "opacity": 1, "strokeWidth": 0}, "encoding": {"x": {"datum": -4.175, "type": "quantitative", "scale": {"domain": [-28.675,142.575], "nice": false, "zero": false}, "axis": null}, "y": {"datum": 96.98, "type": "quantitative", "scale": {"domain": [-35.57,110.31], "nice": false, "zero": false}, "axis": null}}},
{"data": {"values": [{}]}, "mark": {"type": "rule", "color": "#222222", "strokeWidth": 1.5}, "encoding": {"x": {"datum": 103.3, "type": "quantitative", "scale": {"domain": [-28.675,142.575], "nice": false, "zero": false}, "axis": null}, "x2": {"datum": 124}, "y": {"datum": -7.63, "type": "quantitative", "scale": {"domain": [-35.57,110.31], "nice": false, "zero": false}, "axis": null}}},
{"data": {"values": [{}]}, "mark": {"type": "point", "shape": "M -1 -0.7 L 1 0 L -1 0.7 Z", "size": 100, "filled": true, "color": "#222222", "opacity": 1, "strokeWidth": 0}, "encoding": {"x": {"datum": 124.55, "type": "quantitative", "scale": {"domain": [-28.675,142.575], "nice": false, "zero": false}, "axis": null}, "y": {"datum": -7.63, "type": "quantitative", "scale": {"domain": [-35.57,110.31], "nice": false, "zero": false}, "axis": null}}},
{"data": {"name": "b4_text"}, "transform": [{"filter": "datum.kind === 'force'"}], "mark": {"type": "text", "font": "Lato", "fontSize": 16, "align": "right", "baseline": "alphabetic", "color": "#2b2b2b"}, "encoding": {"x": {"field": "u", "type": "quantitative", "scale": {"domain": [-28.675,142.575], "nice": false, "zero": false}, "axis": null}, "y": {"field": "v", "type": "quantitative", "scale": {"domain": [-35.57,110.31], "nice": false, "zero": false}, "axis": null}, "text": {"field": "label"}}},
{"data": {"name": "b4_text"}, "transform": [{"filter": "datum.kind === 'time'"}], "mark": {"type": "text", "font": "Lato", "fontSize": 17, "align": "left", "baseline": "alphabetic", "color": "#2b2b2b"}, "encoding": {"x": {"field": "u", "type": "quantitative", "scale": {"domain": [-28.675,142.575], "nice": false, "zero": false}, "axis": null}, "y": {"field": "v", "type": "quantitative", "scale": {"domain": [-35.57,110.31], "nice": false, "zero": false}, "axis": null}, "text": {"field": "label"}}},
{"data": {"name": "b4_text"}, "transform": [{"filter": "datum.kind === 'title'"}], "mark": {"type": "text", "font": "Lato", "fontSize": 20, "fontWeight": "bold", "align": "right", "baseline": "alphabetic", "color": "#1e1e1e"}, "encoding": {"x": {"field": "u", "type": "quantitative", "scale": {"domain": [-28.675,142.575], "nice": false, "zero": false}, "axis": null}, "y": {"field": "v", "type": "quantitative", "scale": {"domain": [-35.57,110.31], "nice": false, "zero": false}, "axis": null}, "text": {"field": "label"}}},
{"data": {"values": [{}]}, "mark": {"type": "rule", "color": "#9a9a9a", "strokeWidth": 4}, "encoding": {"x": {"datum": -28.175, "type": "quantitative", "scale": {"domain": [-28.675,142.575], "nice": false, "zero": false}, "axis": null}}}
]
}
]
}
